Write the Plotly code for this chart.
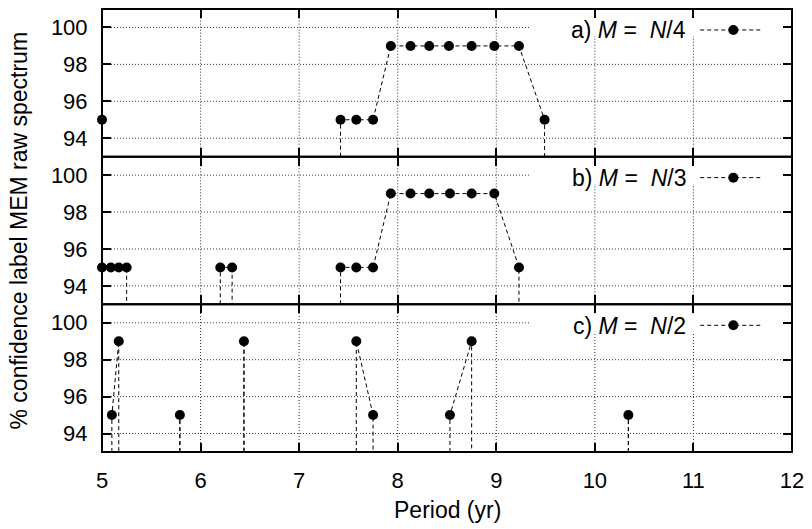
import plotly.graph_objects as go
from plotly.subplots import make_subplots

# ---- data ----
periods_a = [5.00, 7.42, 7.58, 7.75, 7.93, 8.13, 8.32, 8.52, 8.75, 8.98, 9.23, 9.49]
conf_a    = [95,   95,   95,   95,   99,   99,   99,   99,   99,   99,   99,   95]
segment_a = [0,    1,    1,    1,    1,    1,    1,    1,    1,    1,    1,    1]

periods_b = [5.00, 5.09, 5.17, 5.25, 6.20, 6.32, 7.42, 7.58, 7.75, 7.93, 8.13, 8.32, 8.53, 8.75, 8.98, 9.23]
conf_b    = [95,   95,   95,   95,   95,   95,   95,   95,   95,   99,   99,   99,   99,   99,   99,   95]
segment_b = [0,    0,    0,    0,    1,    1,    2,    2,    2,    2,    2,    2,    2,    2,    2,    2]

periods_c = [5.10, 5.17, 5.79, 6.44, 7.58, 7.75, 8.53, 8.75, 10.34]
conf_c    = [95,   99,   95,   99,   99,   95,   95,   99,   95]
segment_c = [0,    0,    1,    2,    3,    3,    4,    4,    5]

panel_labels = ["a) <i>M</i> =&nbsp; <i>N</i>/4",
                "b) <i>M</i> =&nbsp; <i>N</i>/3",
                "c) <i>M</i> =&nbsp; <i>N</i>/2"]

x_range = [5, 12]
x_ticks = [5, 6, 7, 8, 9, 10, 11, 12]
y_range = [93, 101]
y_ticks = [94, 96, 98, 100]
baseline = 93

FONT = "Liberation Sans, Arial, Helvetica, sans-serif"
DASH = "4px,3px"
GRID = dict(color="#333", width=1, dash="1px,2px")

fig = make_subplots(rows=3, cols=1, shared_xaxes=True, vertical_spacing=0)

panels = [(periods_a, conf_a, segment_a),
          (periods_b, conf_b, segment_b),
          (periods_c, conf_c, segment_c)]

for i, (px, py, seg) in enumerate(panels):
    row = i + 1
    lx, ly = [], []
    groups = []
    for xv, yv, s in zip(px, py, seg):
        if not groups or groups[-1][0] != s:
            groups.append((s, [], []))
        groups[-1][1].append(xv)
        groups[-1][2].append(yv)
    for _, gx, gy in groups:
        lx += [gx[0]] + gx + [gx[-1], None]
        ly += [baseline] + gy + [baseline, None]
    fig.add_trace(go.Scatter(x=lx, y=ly, mode="lines",
                             line=dict(color="black", width=1, dash=DASH),
                             hoverinfo="skip", showlegend=False),
                  row=row, col=1)
    fig.add_trace(go.Scatter(x=px, y=py, mode="markers",
                             marker=dict(color="black", size=10, symbol="circle"),
                             cliponaxis=False, showlegend=False),
                  row=row, col=1)

axis_common = dict(showline=True, linecolor="rgba(0,0,0,0)", linewidth=1, mirror="allticks",
                   ticks="inside", ticklen=9, tickwidth=1.5, tickcolor="black",
                   showgrid=False, zeroline=False,
                   tickfont=dict(family=FONT, size=22, color="black"))

for row in range(1, 4):
    fig.update_xaxes(range=x_range, tickvals=x_ticks, showticklabels=(row == 3),
                     ticklabelstandoff=9, **axis_common, row=row, col=1)
    fig.update_yaxes(range=y_range, tickvals=y_ticks, ticklabelstandoff=9,
                     **axis_common, row=row, col=1)

for i, label in enumerate(panel_labels):
    sfx = "" if i == 0 else str(i + 1)
    xa, ya = f"x{sfx}", f"y{sfx}"
    xd, yd = f"x{sfx} domain", f"y{sfx} domain"
    # dotted grid
    for xv in x_ticks[1:-1]:
        fig.add_shape(type="line", xref=xa, yref=yd, x0=xv, x1=xv, y0=0, y1=1,
                      line=GRID, layer="below")
    for yv in y_ticks:
        fig.add_shape(type="line", xref=xd, yref=ya, x0=0.013, x1=0.987, y0=yv, y1=yv,
                      line=GRID, layer="below")
    # opaque key box
    fig.add_shape(type="rect", xref=xd, yref=yd, x0=0.6196, x1=0.99, y0=0.815, y1=0.99,
                  fillcolor="white", line=dict(width=0), layer="below")
    # panel frame
    fig.add_shape(type="rect", xref=xd, yref=yd, x0=0, x1=1, y0=0, y1=1,
                  line=dict(color="black", width=2), layer="above")
    fig.add_annotation(xref=xd, yref=yd, x=0.849, y=0.855, xanchor="right", yanchor="middle",
                       text=label, showarrow=False,
                       font=dict(family=FONT, size=23, color="black"))
    fig.add_shape(type="line", xref=xd, yref=yd, x0=0.867, x1=0.955, y0=0.858, y1=0.858,
                  line=dict(color="black", width=1, dash=DASH))
    fig.add_shape(type="circle", xref=xd, yref=yd, xsizemode="pixel", ysizemode="pixel",
                  xanchor=0.915, yanchor=0.858, x0=-5, x1=5, y0=-5, y1=5,
                  fillcolor="black", line=dict(color="black", width=0))

fig.add_annotation(xref="paper", yref="paper", x=-0.1203, y=0.5, xanchor="center",
                   yanchor="middle", textangle=-90,
                   text="% confidence label MEM raw spectrum", showarrow=False,
                   font=dict(family=FONT, size=23, color="black"))
fig.add_annotation(xref="paper", yref="paper", x=0.5, y=-0.131, xanchor="center",
                   yanchor="middle", text="Period (yr)", showarrow=False,
                   font=dict(family=FONT, size=23, color="black"))

fig.update_layout(width=812, height=529, margin=dict(l=102, r=16, t=8, b=77),
                  paper_bgcolor="white", plot_bgcolor="white",
                  font=dict(family=FONT, color="black"), showlegend=False)

fig.write_html("out.html", config={"displayModeBar": False},
               post_script="document.body.style.margin='0';document.body.style.overflow='hidden';")
